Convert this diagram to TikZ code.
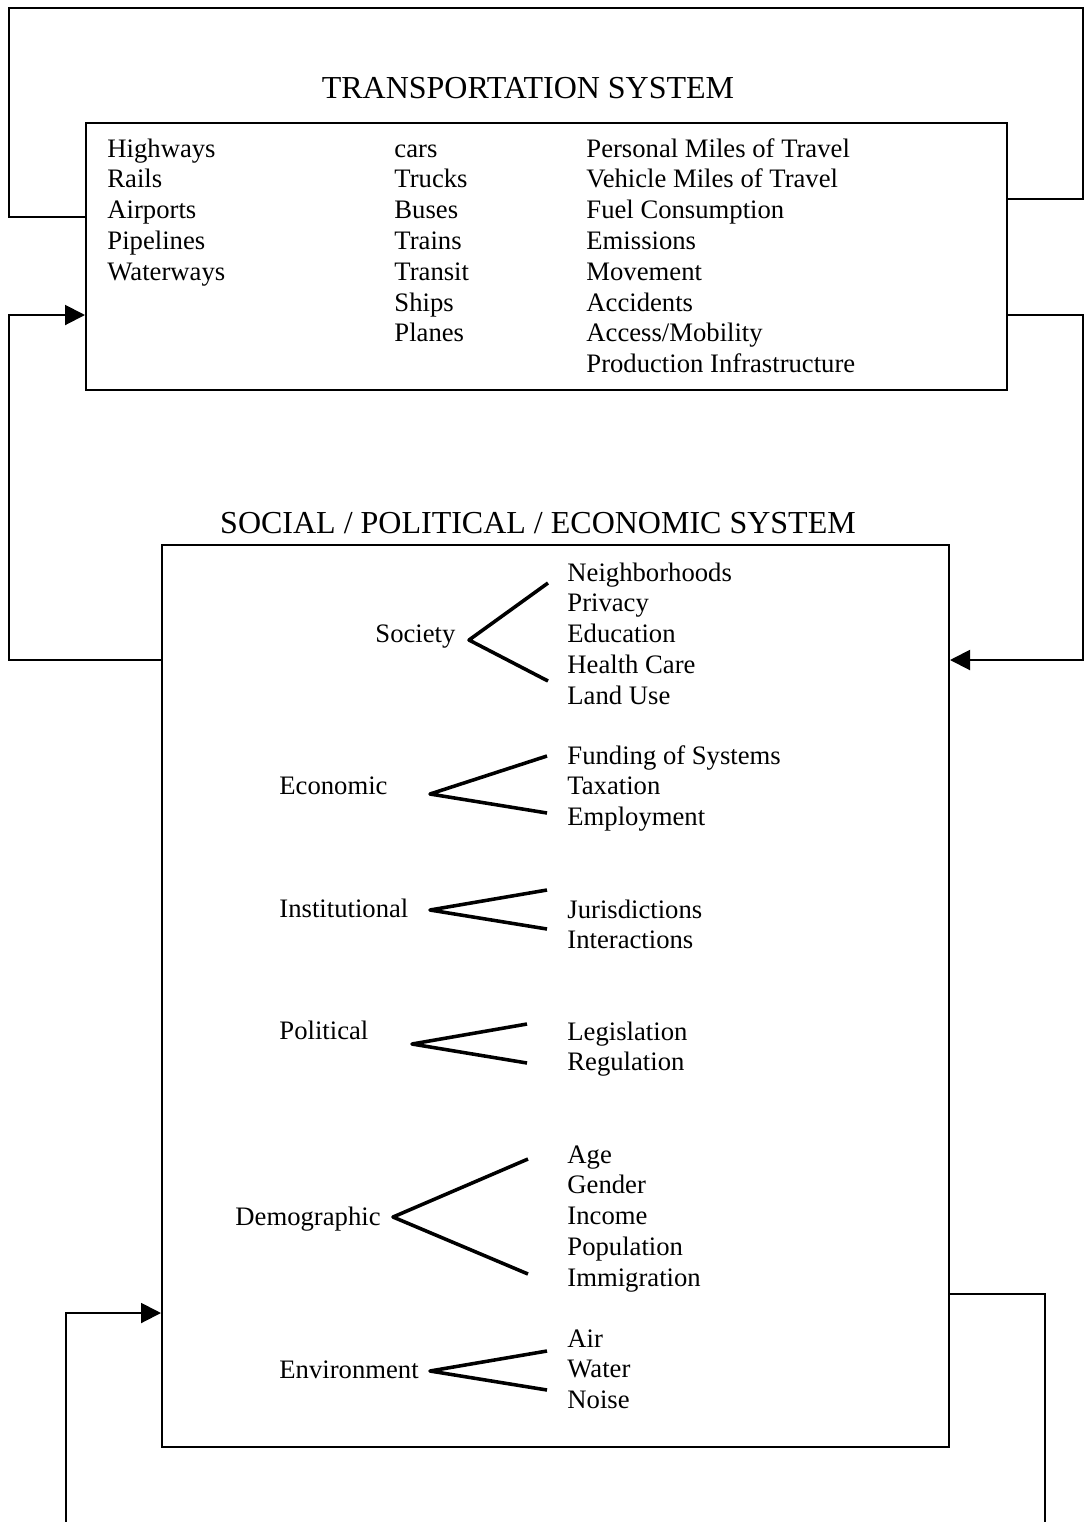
\documentclass[tikz,border=0pt]{standalone}
\usepackage{fontspec}
\setmainfont{Liberation Serif}
\usetikzlibrary{
  arrows.meta,
  positioning
}
\tikzset{
  item/.style={anchor=base west,inner sep=0pt,font=\fontsize{12}{14}\selectfont},
  title/.style={anchor=base,inner sep=0pt,font=\fontsize{14.4}{17}\selectfont},
  box/.style={draw,line width=0.9pt,inner sep=0pt},
  link/.style={line width=0.9pt},
  tolink/.style={link,-{Triangle[length=9pt,width=9pt]}},
  forkline/.style={line width=1.6pt,line join=round}
}
\newcommand{\itemlist}[4]{%
  \foreach \t [count=\i from 0] in {#4}{%
    \pgfmathsetmacro{\yy}{#3+30.8*\i}%
    \node[item] (#1\i) at (#2,\yy) {\t};}%
}
\newcommand{\fork}[6]{%
  \coordinate (#1-v) at (#2,#3);%
  \coordinate (#1-a) at (#4,#5);%
  \coordinate (#1-b) at (#4,#6);%
  \draw[forkline] (#1-a) -- (#1-v) -- (#1-b);%
}

\begin{document}
\begin{tikzpicture}[x=0.45pt,y=-0.45pt]
  \useasboundingbox (0,0) rectangle (1086,1522);
  % transportation system
  \node[title] (ttitle) at (528,98) {TRANSPORTATION SYSTEM};
  \node[box,minimum width=921*0.45pt,minimum height=267*0.45pt] (trans) at (546.5,256.5) {};
  \itemlist{infra}{107}{157}{Highways,Rails,Airports,Pipelines,Waterways}
  \itemlist{mode}{394}{157}{cars,Trucks,Buses,Trains,Transit,Ships,Planes}
  \itemlist{perf}{586}{157}{Personal Miles of Travel,Vehicle Miles of Travel,Fuel Consumption,Emissions,Movement,Accidents,Access/Mobility,Production Infrastructure}
  % social / political / economic system
  \node[title] (stitle) at (538,533) {SOCIAL / POLITICAL / ECONOMIC SYSTEM};
  \node[box,minimum width=787*0.45pt,minimum height=902*0.45pt] (spe) at (555.5,996) {};
  \node[item] (soc) at (375,642) {Society};
  \fork{soc}{469}{640}{548}{583}{681}
  \itemlist{socl}{567}{581}{Neighborhoods,Privacy,Education,Health Care,Land Use}
  \node[item] (eco) at (279,794) {Economic};
  \fork{eco}{430}{794}{547}{756}{813}
  \itemlist{ecol}{567}{764}{Funding of Systems,Taxation,Employment}
  \node[item] (inst) at (279,917) {Institutional};
  \fork{inst}{430}{910}{547}{890}{929}
  \itemlist{instl}{567}{918}{Jurisdictions,Interactions}
  \node[item] (pol) at (279,1039) {Political};
  \fork{pol}{412}{1044}{527}{1024}{1063}
  \itemlist{poll}{567}{1040}{Legislation,Regulation}
  \node[item] (dem) at (235,1225) {Demographic};
  \fork{dem}{393}{1217}{528}{1159}{1274}
  \itemlist{deml}{567}{1163}{Age,Gender,Income,Population,Immigration}
  \node[item] (env) at (279,1378) {Environment};
  \fork{env}{430}{1371}{547}{1351}{1390}
  \itemlist{envl}{567}{1347}{Air,Water,Noise}
  % feedback loops
  \draw[link] (trans.east |- 0,199) -| (1083,8) -| (9,217) -- (trans.west |- 0,217);
  \draw[tolink] (trans.east |- 0,315) -| (1083,660) -- (spe.east |- 0,660);
  \draw[tolink] (spe.west |- 0,660) -| (9,315) -- (trans.west |- 0,315);
  \draw[link] (spe.east |- 0,1294) -| (1045,1522);
  \draw[tolink] (66,1522) |- (spe.west |- 0,1313);
\end{tikzpicture}
\end{document}
